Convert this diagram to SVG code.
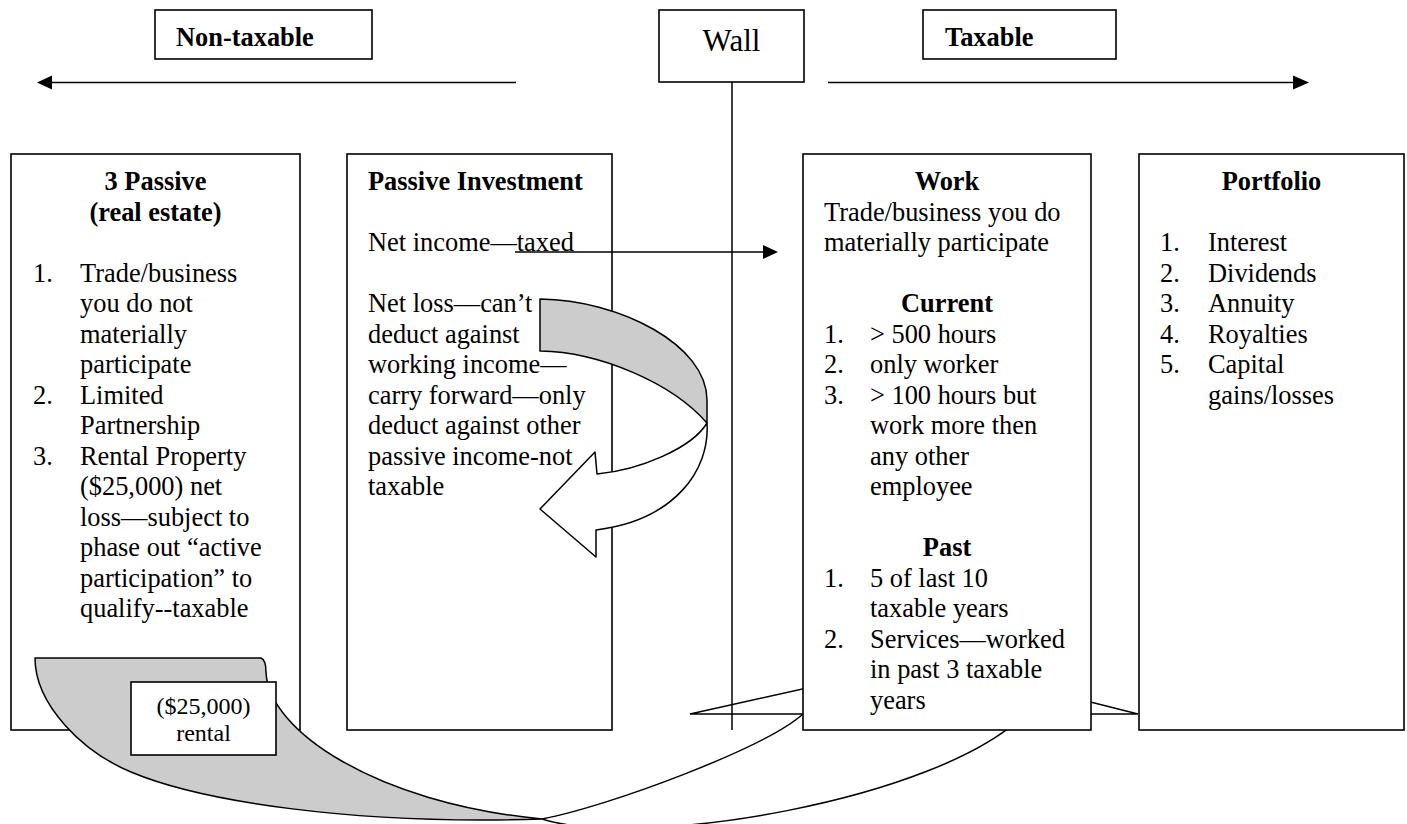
<svg xmlns="http://www.w3.org/2000/svg" width="1407" height="824" viewBox="0 0 1407 824">
<style>
.box{fill:#fff;stroke:#000;stroke-width:1.6}
.ln{fill:none;stroke:#000;stroke-width:1.5}
.sh{stroke:#000;stroke-width:1.5;stroke-linejoin:round}
.hd{fill:#000}
text{font-family:"Liberation Serif","Times New Roman",serif;font-size:26.4px;fill:#000}
.b{font-weight:bold}
.c{text-anchor:middle}
.sm{font-size:24px}
</style>
<rect x="0" y="0" width="1407" height="824" fill="#fff"/>

<g id="label-nontaxable">
<rect class="box" x="155" y="10" width="217" height="49"/>
<text class="b" x="176" y="45.7">Non-taxable</text>
</g>

<g id="wall">
<rect class="box" x="659" y="10" width="145" height="72"/>
<text class="c" x="731.5" y="50.7" style="font-size:31px">Wall</text>
</g>

<g id="label-taxable">
<rect class="box" x="923" y="10" width="193" height="49"/>
<text class="b" x="945" y="45.7">Taxable</text>
</g>

<g id="passive-real-estate">
<rect class="box" x="11" y="154" width="289" height="576"/>
<text class="b c" x="155.5" y="190">3 Passive</text>
<text class="b c" x="155.5" y="220.5">(real estate)</text>
<text x="33" y="281.5">1.</text><text x="80" y="281.5">Trade/business</text>
<text x="80" y="312">you do not</text>
<text x="80" y="342.5">materially</text>
<text x="80" y="373">participate</text>
<text x="33" y="403.5">2.</text><text x="80" y="403.5">Limited</text>
<text x="80" y="434">Partnership</text>
<text x="33" y="464.5">3.</text><text x="80" y="464.5">Rental Property</text>
<text x="80" y="495">($25,000) net</text>
<text x="80" y="525.5">loss—subject to</text>
<text x="80" y="556">phase out “active</text>
<text x="80" y="586.5">participation” to</text>
<text x="80" y="617">qualify--taxable</text>
</g>

<g id="passive-investment">
<rect class="box" x="347" y="154" width="265" height="576"/>
<text class="b" x="368" y="190">Passive Investment</text>
<text x="368" y="251">Net income—taxed</text>
<text x="368" y="312">Net loss—can’t</text>
<text x="368" y="342.5">deduct against</text>
<text x="368" y="373">working income—</text>
<text x="368" y="403.5">carry forward—only</text>
<text x="368" y="434">deduct against other</text>
<text x="368" y="464.5">passive income-not</text>
<text x="368" y="495">taxable</text>
</g>

<g id="carry-forward-arrow">
<path class="sh" fill="#fff" d="M707,423 C692,448 640,470 597,474 L595,452 L540,509 L596,557 L596,530 C675,520 710,470 707,423 Z"/>
<path class="sh" fill="#cccccc" d="M540,299 C620,300 707,345 707,400 L707,423 C672,383 600,352 540,351 Z"/>
</g>

<g id="rental-curved-arrow">
<path class="sh" fill="#cccccc" d="M35,658 L261,658 Q266,660 266,672 C268,730 375,803 542,819 C350,825 200,801 131,772 C83,752 35,705 35,658 Z"/>
<path class="ln" d="M542,819 C610,806 765,748 803,714"/>
<path class="ln" d="M542,819 C640,850 940,800 1025,714"/>
<path class="ln" d="M690,714 L928,661 L1138,714 Z"/>
</g>

<g id="rental">
<rect class="box" x="131" y="682" width="145" height="73"/>
<text class="c sm" x="203.5" y="714">($25,000)</text>
<text class="c sm" x="203.5" y="741">rental</text>
</g>

<g id="wall-line">
<line class="ln" x1="732" y1="82" x2="732" y2="730"/>
</g>

<g id="work">
<rect class="box" x="803" y="154" width="288" height="576"/>
<text class="b c" x="947" y="190">Work</text>
<text x="824" y="220.5">Trade/business you do</text>
<text x="824" y="251">materially participate</text>
<text class="b c" x="947" y="312">Current</text>
<text x="824" y="342.5">1.</text><text x="870" y="342.5">&gt; 500 hours</text>
<text x="824" y="373">2.</text><text x="870" y="373">only worker</text>
<text x="824" y="403.5">3.</text><text x="870" y="403.5">&gt; 100 hours but</text>
<text x="870" y="434">work more then</text>
<text x="870" y="464.5">any other</text>
<text x="870" y="495">employee</text>
<text class="b c" x="947" y="556">Past</text>
<text x="824" y="586.5">1.</text><text x="870" y="586.5">5 of last 10</text>
<text x="870" y="617">taxable years</text>
<text x="824" y="647.5">2.</text><text x="870" y="647.5">Services—worked</text>
<text x="870" y="678">in past 3 taxable</text>
<text x="870" y="708.5">years</text>
</g>

<g id="portfolio">
<rect class="box" x="1139" y="154" width="265" height="576"/>
<text class="b c" x="1271.5" y="190">Portfolio</text>
<text x="1160" y="251">1.</text><text x="1208" y="251">Interest</text>
<text x="1160" y="281.5">2.</text><text x="1208" y="281.5">Dividends</text>
<text x="1160" y="312">3.</text><text x="1208" y="312">Annuity</text>
<text x="1160" y="342.5">4.</text><text x="1208" y="342.5">Royalties</text>
<text x="1160" y="373">5.</text><text x="1208" y="373">Capital</text>
<text x="1208" y="403.5">gains/losses</text>
</g>

<g id="connectors">
<line class="ln" x1="516" y1="82.5" x2="50" y2="82.5"/>
<polygon class="hd" points="37,82.5 52,75.5 52,89.5"/>
<line class="ln" x1="828" y1="82.5" x2="1296" y2="82.5"/>
<polygon class="hd" points="1309,82.5 1293,75.5 1293,89.5"/>
<line class="ln" x1="515" y1="252" x2="765" y2="252"/>
<polygon class="hd" points="778,252 763,245 763,259"/>
</g>
</svg>
